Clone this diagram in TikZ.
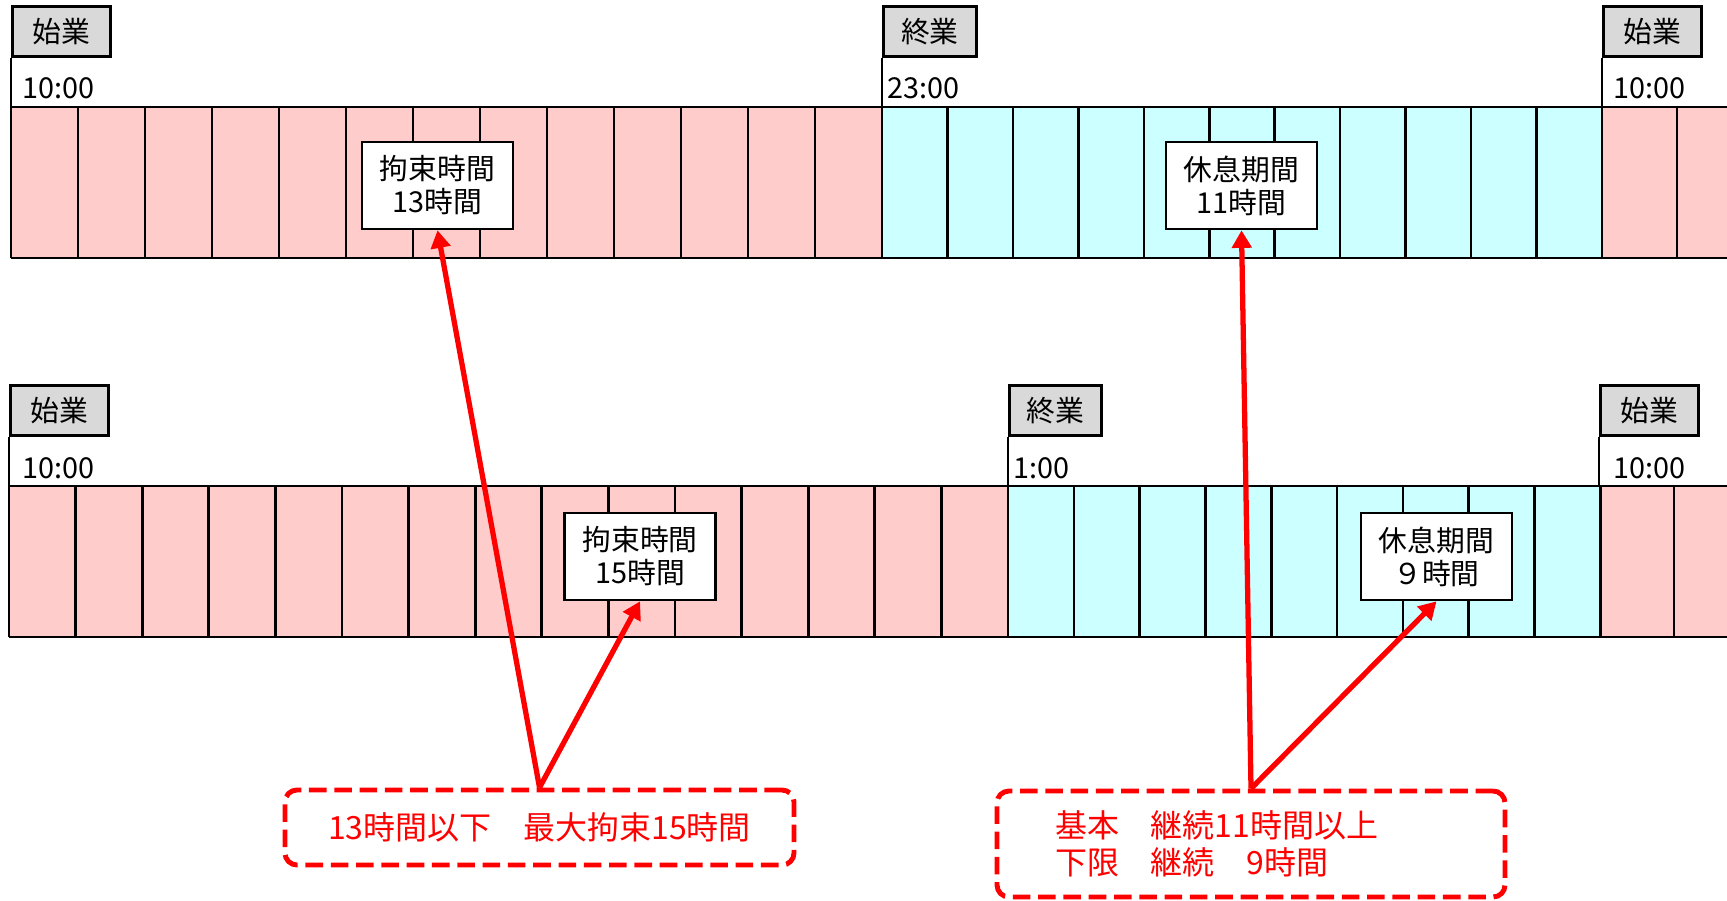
\documentclass[tikz,border=0pt]{standalone}
\usepackage{fontspec}
\setmainfont{Noto Sans CJK JP}
\usepackage{tikz}
\usetikzlibrary{arrows.meta}
\definecolor{workpink}{HTML}{FFCCCC}
\definecolor{restcyan}{HTML}{CCFFFF}
\definecolor{taggray}{HTML}{D9D9D9}
\definecolor{notered}{HTML}{FF0000}
\newcommand{\lblfont}{\fontsize{8.2}{9.4}\selectfont}
\newcommand{\notefont}{\fontsize{9.1}{10.5}\selectfont}

\begin{document}
\begin{tikzpicture}[line width=0.75pt,
  tag/.style={draw, fill=taggray, anchor=south west, minimum height=0.5cm, inner sep=0pt, font=\lblfont},
  hour/.style={anchor=west, inner sep=0pt, font=\lblfont},
  span/.style={draw, fill=white, minimum width=1.51cm, minimum height=0.87cm, inner sep=0pt, align=center, font=\lblfont},
  note/.style={draw=notered, text=notered, line width=1.4pt, dash pattern=on 5pt off 2.2pt, rounded corners=3.4pt, font=\notefont},
  pointer/.style={draw=notered, line width=1.5pt, -{Triangle[length=5pt,width=5.5pt]}}]
\useasboundingbox (0,0) rectangle (17.27,9);

% first day: 10:00 - 23:00
\fill[workpink] (0.11,6.42) rectangle (8.82,7.93);
\fill[restcyan] (8.82,6.42) rectangle (16.02,7.93);
\fill[workpink] (16.02,6.42) rectangle (17.27,7.93);
\foreach \i in {0,...,13} \draw (0.11+0.67*\i,6.42) -- ++(0,1.51);
\foreach \i in {1,...,11} \draw (8.82+0.6545*\i,6.42) -- ++(0,1.51);
\draw (16.77,6.42) -- ++(0,1.51);
\draw (0.11,7.93) -- (17.27,7.93);
\draw (0.11,6.42) -- (17.27,6.42);

\draw(0.11,8.42) node[tag, minimum width=0.98cm] (open1) {始業};
\draw(8.82,8.42) node[tag, minimum width=0.93cm] (close1) {終業};
\draw(16.02,8.42) node[tag, minimum width=0.98cm] (open2) {始業};
\draw (open1.south west) -- ++(0,-0.49);
\draw (close1.south west) -- ++(0,-0.49);
\draw (open2.south west) -- ++(0,-0.49);
\draw(0.21,8.12) node[hour] (t1) {10:00};
\draw(8.86,8.12) node[hour] (t2) {23:00};
\draw(16.12,8.12) node[hour] (t3) {10:00};

% second day: 10:00 - 1:00
\fill[workpink] (0.09,2.63) rectangle (10.08,4.14);
\fill[restcyan] (10.08,2.63) rectangle (16.00,4.14);
\fill[workpink] (16.00,2.63) rectangle (17.27,4.14);
\foreach \i in {0,...,15} \draw (0.09+0.666*\i,2.63) -- ++(0,1.51);
\foreach \i in {1,...,9} \draw (10.08+0.658*\i,2.63) -- ++(0,1.51);
\draw (16.74,2.63) -- ++(0,1.51);
\draw (0.09,4.14) -- (17.27,4.14);
\draw (0.09,2.63) -- (17.27,2.63);

\draw(0.09,4.63) node[tag, minimum width=0.98cm] (open3) {始業};
\draw(10.08,4.63) node[tag, minimum width=0.92cm] (close2) {終業};
\draw(15.99,4.63) node[tag, minimum width=0.98cm] (open4) {始業};
\draw (open3.south west) -- ++(0,-0.49);
\draw (close2.south west) -- ++(0,-0.49);
\draw (open4.south west) -- ++(0,-0.49);
\draw(0.21,4.32) node[hour] (t4) {10:00};
\draw(10.12,4.32) node[hour] (t5) {1:00};
\draw(16.12,4.32) node[hour] (t6) {10:00};

% hours
\draw(4.375,7.145) node[span] (bind1) {拘束時間\\13時間};
\draw(12.415,7.145) node[span] (rest1) {休息期間\\11時間};
\draw(6.40,3.435) node[span] (bind2) {拘束時間\\15時間};
\draw(14.365,3.435) node[span] (rest2) {休息期間\\９時間};

% rules
\draw(5.395,0.725) node[note, minimum width=5.09cm, minimum height=0.75cm] (limit1) {13時間以下　最大拘束15時間};
\draw(12.51,0.56) node[note, minimum height=1.06cm, text width=3.92cm, inner xsep=0.58cm, align=left] (limit2) {基本　継続11時間以上\\下限　継続　9時間};

\draw[pointer] (limit1.north) -- (bind1.south);
\draw[pointer] (limit1.north) -- (bind2.south);
\draw[pointer] (limit2.north) -- (rest1.south);
\draw[pointer] (limit2.north) -- (rest2.south);

\end{tikzpicture}
\end{document}
